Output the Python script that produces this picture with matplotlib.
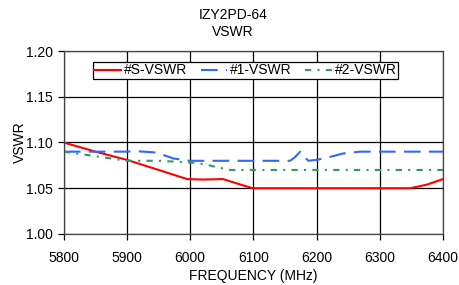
import matplotlib
matplotlib.use("Agg")
import matplotlib.pyplot as plt
import numpy as np

plt.rcParams['font.family'] = ['Liberation Sans', 'DejaVu Sans']

freq_s = [5800, 5850, 5900, 5950, 5995, 6020, 6052, 6075, 6099, 6150, 6200, 6250, 6300, 6348, 6375, 6400]
vswr_s = [1.100, 1.090, 1.081, 1.070, 1.060, 1.0595, 1.060, 1.055, 1.050, 1.050, 1.050, 1.050, 1.050, 1.050, 1.054, 1.060]

freq_1 = [5800, 5850, 5900, 5915, 5947, 5973, 5999, 6050, 6100, 6158, 6166, 6174, 6180, 6187, 6200, 6220, 6242, 6269, 6300, 6350, 6400]
vswr_1 = [1.090, 1.090, 1.090, 1.0905, 1.089, 1.0826, 1.080, 1.080, 1.080, 1.080, 1.084, 1.090, 1.085, 1.080, 1.081, 1.084, 1.088, 1.090, 1.090, 1.090, 1.090]

freq_2 = [5800, 5850, 5900, 5950, 6004, 6025, 6042, 6063, 6100, 6200, 6300, 6400]
vswr_2 = [1.090, 1.085, 1.080, 1.080, 1.078, 1.076, 1.073, 1.070, 1.070, 1.070, 1.070, 1.070]

x_ticks = [5800, 5900, 6000, 6100, 6200, 6300, 6400]
y_ticks = [1.00, 1.05, 1.10, 1.15, 1.20]

fig = plt.figure(figsize=(4.59, 2.85), dpi=100)
ax = fig.add_axes([0.139, 0.179, 0.826, 0.642])

ax.plot(freq_s, vswr_s, color='#ff0000', lw=1.5, label='#S-VSWR')
ax.plot(freq_1, vswr_1, color='#3366ff', lw=1.5, dashes=[8, 4], label='#1-VSWR')
ax.plot(freq_2, vswr_2, color='#339966', lw=1.5, dashes=[3, 3, 1, 3], label='#2-VSWR')

ax.set_xlim(5800, 6400)
ax.set_ylim(1.00, 1.20)
ax.set_xticks(x_ticks)
ax.set_yticks(y_ticks)
ax.set_yticklabels([f"{v:.2f}" for v in y_ticks])
ax.grid(True, color='black', lw=0.9)
ax.set_axisbelow(True)
ax.tick_params(axis='x', direction='out', length=4, labelsize=10, width=0.9, pad=8)
ax.tick_params(axis='y', direction='out', length=4, labelsize=10, width=0.9, pad=4)
for s in ax.spines.values():
    s.set_linewidth(0.9)
    s.set_color('#444444')

ax.set_xlabel('FREQUENCY (MHz)', fontsize=10, labelpad=3)
ax.set_ylabel('VSWR', fontsize=10, labelpad=-1)
fig.text(0.508, 0.972, 'IZY2PD-64\nVSWR', fontsize=10, ha='center', va='top', linespacing=1.3)

leg = ax.legend(loc='upper left', ncol=3, fontsize=10, frameon=True, fancybox=False,
                edgecolor='black', framealpha=1, bbox_to_anchor=(0.077, 0.94),
                borderpad=0.1, handlelength=1.9, handletextpad=0.2, columnspacing=1.0,
                borderaxespad=0.0)
leg.get_frame().set_linewidth(0.9)

fig.savefig('out.png', dpi=100)
